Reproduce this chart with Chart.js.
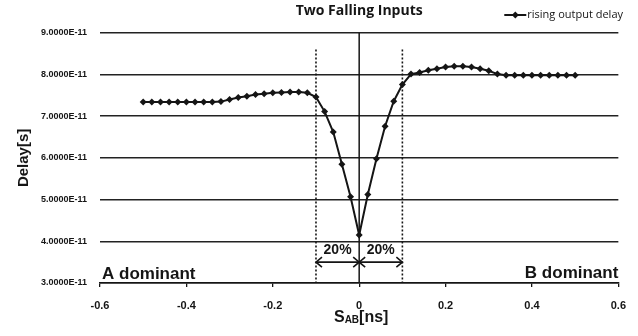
<!DOCTYPE html>
<html>
<head>
<meta charset="utf-8">
<script src="https://cdn.jsdelivr.net/npm/chart.js@4.4.1/dist/chart.umd.min.js"></script>
<style>
  html, body { margin: 0; padding: 0; background: #fff; }
  #wrap { width: 638px; height: 336px; }
</style>
</head>
<body>
<div id="wrap"><canvas id="myChart" width="638" height="336"></canvas></div>
<script>
// skew S_AB [ns]
var skew = [-0.50, -0.48, -0.46, -0.44, -0.42, -0.40, -0.38, -0.36, -0.34, -0.32,
            -0.30, -0.28, -0.26, -0.24, -0.22, -0.20, -0.18, -0.16, -0.14, -0.12,
            -0.10, -0.08, -0.06, -0.04, -0.02, 0.00, 0.02, 0.04, 0.06, 0.08,
            0.10, 0.12, 0.14, 0.16, 0.18, 0.20, 0.22, 0.24, 0.26, 0.28,
            0.30, 0.32, 0.34, 0.36, 0.38, 0.40, 0.42, 0.44, 0.46, 0.48, 0.50];
// rising output delay [s]
var risingDelay = [7.34e-11, 7.34e-11, 7.34e-11, 7.34e-11, 7.34e-11, 7.34e-11, 7.34e-11, 7.34e-11, 7.34e-11, 7.35e-11,
                   7.40e-11, 7.45e-11, 7.48e-11, 7.52e-11, 7.54e-11, 7.56e-11, 7.57e-11, 7.58e-11, 7.58e-11, 7.56e-11,
                   7.46e-11, 7.11e-11, 6.62e-11, 5.85e-11, 5.07e-11, 4.15e-11, 5.12e-11, 5.98e-11, 6.76e-11, 7.36e-11,
                   7.76e-11, 8.01e-11, 8.05e-11, 8.10e-11, 8.14e-11, 8.18e-11, 8.20e-11, 8.20e-11, 8.18e-11, 8.14e-11,
                   8.09e-11, 8.01e-11, 7.98e-11, 7.98e-11, 7.98e-11, 7.98e-11, 7.98e-11, 7.98e-11, 7.98e-11, 7.98e-11, 7.98e-11];
var seriesName = 'rising output delay';
var xTicks = [-0.6, -0.4, -0.2, 0, 0.2, 0.4, 0.6];
var yTicks = [3e-11, 4e-11, 5e-11, 6e-11, 7e-11, 8e-11, 9e-11];
var regionLabels = ['A dominant', 'B dominant'];
var windowLabel = '20%';

var ink = '#151515';
var points = skew.map(function(s, i){ return {x: s, y: risingDelay[i]}; });

// extra drawing: guide lines, 20% arrows, region names, axis title with subscript, legend
var notes = {
    id: 'notes',
    beforeDatasetsDraw: function(chart){
        var ctx = chart.ctx, xs = chart.scales.x, ys = chart.scales.y, a = chart.chartArea;
        ctx.save();
        ctx.strokeStyle = ink;
        // solid line at 0
        ctx.lineWidth = 1.5;
        ctx.beginPath();
        ctx.moveTo(xs.getPixelForValue(0), a.top);
        ctx.lineTo(xs.getPixelForValue(0), a.bottom);
        ctx.stroke();
        // dashed lines at +-0.1
        ctx.lineWidth = 1.6;
        ctx.setLineDash([2, 2]);
        [-0.1, 0.1].forEach(function(v){
            var px = xs.getPixelForValue(v);
            ctx.beginPath();
            ctx.moveTo(px, ys.getPixelForValue(8.6e-11));
            ctx.lineTo(px, a.bottom);
            ctx.stroke();
        });
        ctx.restore();
    },
    afterDatasetsDraw: function(chart){
        var ctx = chart.ctx, xs = chart.scales.x, ys = chart.scales.y, a = chart.chartArea;
        ctx.save();
        ctx.strokeStyle = ink;
        ctx.fillStyle = ink;
        ctx.lineWidth = 1.6;
        var ay = ys.getPixelForValue(3.5e-11);
        var x0 = xs.getPixelForValue(-0.1), x1 = xs.getPixelForValue(0), x2 = xs.getPixelForValue(0.1);
        function head(x, dir){
            ctx.beginPath();
            ctx.moveTo(x + dir * 6, ay - 5);
            ctx.lineTo(x, ay);
            ctx.lineTo(x + dir * 6, ay + 5);
            ctx.stroke();
        }
        ctx.beginPath();
        ctx.moveTo(x0, ay); ctx.lineTo(x2, ay);
        ctx.stroke();
        head(x0, 1); head(x1, -1); head(x1, 1); head(x2, -1);

        ctx.font = 'bold 14px "Liberation Sans", Arial, sans-serif';
        ctx.textAlign = 'center';
        ctx.textBaseline = 'middle';
        var ly = ys.getPixelForValue(3.78e-11);
        ctx.fillText(windowLabel, (x0 + x1) / 2, ly);
        ctx.fillText(windowLabel, (x1 + x2) / 2, ly);

        ctx.font = 'bold 17px "Liberation Sans", Arial, sans-serif';
        ctx.textBaseline = 'alphabetic';
        ctx.textAlign = 'left';
        ctx.fillText(regionLabels[0], a.left + 2, a.bottom - 4);
        ctx.textAlign = 'right';
        ctx.fillText(regionLabels[1], a.right, a.bottom - 5);

        // x axis title S_AB[ns]
        var big = 'bold 16px "Liberation Sans", Arial, sans-serif';
        var small = 'bold 10px "Liberation Sans", Arial, sans-serif';
        ctx.font = big; var wS = ctx.measureText('S').width, wN = ctx.measureText('[ns]').width;
        ctx.font = small; var wAB = ctx.measureText('AB').width;
        var tx = (a.left + a.right) / 2 - (wS + wAB + wN) / 2 + 2;
        var by = 322;
        ctx.textAlign = 'left';
        ctx.font = big; ctx.fillText('S', tx, by);
        ctx.font = small; ctx.fillText('AB', tx + wS, by + 1);
        ctx.font = big; ctx.fillText('[ns]', tx + wS + wAB, by);

        // legend
        ctx.font = '11px "Open Sans", sans-serif';
        ctx.textAlign = 'right';
        ctx.textBaseline = 'middle';
        var lx = chart.width - 15, lyy = 15;
        var tw = ctx.measureText(seriesName).width;
        ctx.fillText(seriesName, lx, lyy);
        var sx = lx - tw - 1;
        ctx.lineWidth = 2;
        ctx.beginPath();
        ctx.moveTo(sx - 22, lyy); ctx.lineTo(sx, lyy);
        ctx.stroke();
        ctx.beginPath();
        var cx = sx - 11;
        ctx.moveTo(cx, lyy - 3.5); ctx.lineTo(cx + 3.5, lyy); ctx.lineTo(cx, lyy + 3.5); ctx.lineTo(cx - 3.5, lyy);
        ctx.closePath();
        ctx.fill();
        ctx.restore();
    }
};

var ctx = document.getElementById('myChart').getContext('2d');
var chart = new Chart(ctx, {
    type: 'line',
    data: {
        datasets: [{
            label: seriesName,
            data: points,
            borderColor: ink,
            backgroundColor: ink,
            borderWidth: 2,
            pointStyle: 'rectRot',
            pointRadius: 3.5,
            pointBackgroundColor: ink,
            pointBorderColor: ink,
            pointBorderWidth: 0,
            fill: false,
            tension: 0
        }]
    },
    options: {
        responsive: false,
        animation: false,
        layout: {padding: {left: 0, right: 18, top: 0, bottom: 0}},
        plugins: {
            legend: {display: false},
            tooltip: {enabled: false},
            title: {
                display: true,
                text: 'Two Falling Inputs',
                fullSize: false,
                color: ink,
                font: {family: '"Open Sans", sans-serif', size: 14, weight: 'bold'},
                padding: {top: 3, bottom: 13}
            }
        },
        scales: {
            x: {
                type: 'linear',
                min: -0.6,
                max: 0.6,
                afterBuildTicks: function(scale){ scale.ticks = xTicks.map(function(v){ return {value: v}; }); },
                afterFit: function(scale){ scale.height = 53; },
                grid: {display: true, drawOnChartArea: false, drawTicks: true, tickLength: 4, color: ink, lineWidth: 1.3},
                border: {display: true, color: ink, width: 1.5},
                ticks: {
                    color: ink,
                    padding: 12,
                    font: {family: '"Liberation Sans", Arial, sans-serif', size: 11, weight: 'bold'},
                    callback: function(v){ return Math.abs(v) < 1e-9 ? '0' : String(+v.toFixed(1)); }
                }
            },
            y: {
                type: 'linear',
                min: 3e-11,
                max: 9e-11,
                afterBuildTicks: function(scale){ scale.ticks = yTicks.map(function(v){ return {value: v}; }); },
                afterFit: function(scale){ scale.width = 100; },
                grid: {display: true, drawTicks: false, color: '#222', lineWidth: 1.5},
                border: {display: false},
                title: {
                    display: true,
                    text: 'Delay[s]',
                    color: ink,
                    font: {family: '"Liberation Sans", Arial, sans-serif', size: 15, weight: 'bold'},
                    padding: {top: 15, bottom: 0}
                },
                ticks: {
                    color: ink,
                    padding: 13,
                    font: {family: '"Liberation Sans", Arial, sans-serif', size: 9, weight: 'bold'},
                    callback: function(v){ return v.toExponential(4).toUpperCase(); }
                }
            }
        }
    },
    plugins: [notes]
});
</script>
</body>
</html>
